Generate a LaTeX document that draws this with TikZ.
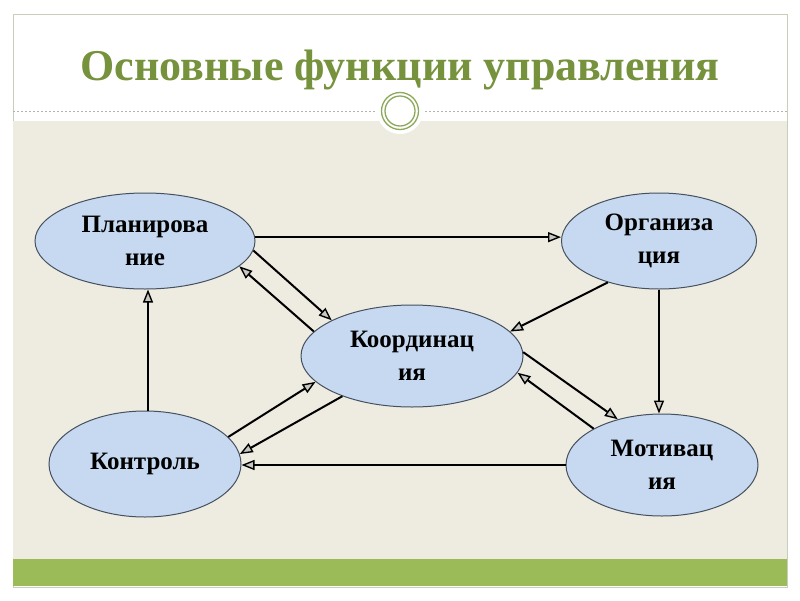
\documentclass[tikz,border=0pt]{standalone}
\usepackage{fontspec}
\setmainfont{Liberation Serif}
\usetikzlibrary{arrows.meta,shapes.geometric,calc}
\definecolor{beige}{RGB}{238,236,225}
\definecolor{barg}{RGB}{155,187,89}
\definecolor{titleg}{RGB}{118,146,60}
\definecolor{ringg}{RGB}{140,168,90}
\definecolor{ellf}{RGB}{198,217,241}
\definecolor{elld}{RGB}{70,80,95}
\definecolor{framec}{RGB}{200,207,185}
\definecolor{tipf}{RGB}{200,200,195}
\begin{document}
\begin{tikzpicture}[x=1pt,y=-1pt,
  fn/.style={ellipse, draw=elld, line width=1pt, fill=ellf, inner sep=0pt, align=center,
    font=\fontsize{25}{33}\selectfont\bfseries},
  arr/.style={line width=2pt, -{Triangle[length=13pt,width=10pt,line width=1.4pt,fill=tipf]}}]
\useasboundingbox (0,0) rectangle (800,600);
\fill[white] (0,0) rectangle (800,600);
\draw[framec, line width=1pt] (13,14) rectangle (787,587);
\fill[beige] (13,121) rectangle (787,559);
\fill[barg] (13,559) rectangle (787,586);
\draw[dash pattern=on 2pt off 2pt, gray!60, line width=0.6pt] (13,111) -- (787,111);
\fill[white] (400,111) circle (23pt);
\draw[ringg, line width=1.3pt] (400,111) circle (18.5pt);
\draw[ringg, line width=1.3pt] (400,111) circle (15pt);

\node[anchor=base, text=titleg, font=\fontsize{44}{50}\selectfont\bfseries] (title) at (400,80) {Основные функции управления};

\node[fn, minimum width=220pt, minimum height=96pt] (plan) at (145,241) {Планирова\\ние};
\node[fn, minimum width=195pt, minimum height=96pt] (org) at (659,241) {Организа\\ция};
\node[fn, minimum width=222pt, minimum height=102pt] (coord) at (412,356) {Координац\\ия};
\node[fn, minimum width=192pt, minimum height=106pt] (ctrl) at (145,464) {Контроль};
\node[fn, minimum width=192pt, minimum height=102pt] (motiv) at (662,465) {Мотивац\\ия};

\coordinate (cn) at ([xshift=3pt]ctrl.north);
\draw[arr] (plan.2) -- (plan.2 -| org.west);
\draw[arr] (org.219) -- (coord.14);
\draw[arr] (org.south) -- (org.south |- motiv.north);
\draw[arr] (motiv.west) -- (motiv.west -| ctrl.east);
\draw[arr] (cn) -- (cn |- plan.south);
\draw[arr] (plan.-5) -- (coord.156);
\draw[arr] (coord.166) -- (plan.-15);
\draw[arr] (coord.2) -- (motiv.134);
\draw[arr] (motiv.152) -- (coord.-9);
\draw[arr] (ctrl.18) -- (coord.195);
\draw[arr] (coord.210) -- (ctrl.6);
\end{tikzpicture}
\end{document}
